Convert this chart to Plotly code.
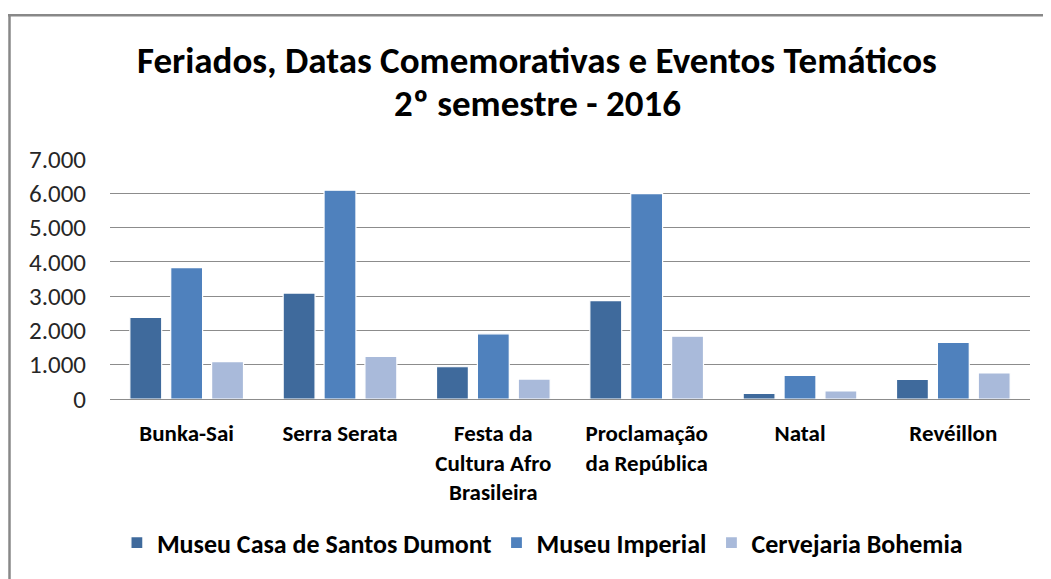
import plotly.graph_objects as go

categories = ["Bunka-Sai", "Serra Serata", "Festa da<br>Cultura Afro<br>Brasileira",
              "Proclamação<br>da República", "Natal", "Revéillon"]
series_names = ["Museu Casa de Santos Dumont", "Museu Imperial", "Cervejaria Bohemia"]
santos_dumont = [2380, 3090, 940, 2870, 165, 570]
museu_imperial = [3830, 6090, 1900, 5990, 690, 1650]
bohemia = [1090, 1240, 580, 1830, 235, 760]
colors = ["#3F6A9C", "#4F81BD", "#A9BADA"]
tick_vals = [0, 1000, 2000, 3000, 4000, 5000, 6000, 7000]
title_lines = ["Feriados, Datas Comemorativas e Eventos Temáticos", "2º semestre - 2016"]

FONT = "Calibri, Carlito, Lato, sans-serif"

fig = go.Figure()
for name, vals, c in zip(series_names, [santos_dumont, museu_imperial, bohemia], colors):
    fig.add_trace(go.Bar(x=categories, y=vals, name="<b>" + name + "</b>", marker_color=c,
                         marker_line=dict(color="white", width=1.2)))

W, H = 1043, 571
PL, PT, PW, PH = 102, 151, 920, 242
fig.update_layout(
    width=W, height=H,
    margin=dict(l=PL, r=W - PL - PW, t=PT, b=H - PT - PH),
    paper_bgcolor="white", plot_bgcolor="white",
    separators=",.",
    barmode="group", bargap=0.2, bargroupgap=0.22,
    font=dict(family=FONT, color="#000000"),
    xaxis=dict(showline=True, linecolor="#8C8C8C", linewidth=1, ticks="",
               tickfont=dict(size=23, family=FONT, color="#000000"),
               tickprefix="<b>", ticksuffix="</b>", ticklabelstandoff=13),
    yaxis=dict(range=[0, 7000], tickvals=tick_vals, tickformat=",d",
               showgrid=True, gridcolor="#8C8C8C", gridwidth=1, zeroline=False,
               tickfont=dict(size=25, family=FONT, color="#262626"), ticklen=18, ticks="outside",
               tickcolor="rgba(0,0,0,0)"),
    legend=dict(orientation="h", x=0.47, xanchor="center", y=-0.599, yanchor="middle",
                font=dict(size=26, family=FONT, color="#000000"), itemwidth=30,
                traceorder="normal"),
    showlegend=True,
)

# title lines (figure-pixel centres converted to paper coordinates of the plot area)
for txt, yc in zip(title_lines, [52, 95]):
    fig.add_annotation(text="<b>" + txt + "</b>", xref="paper", yref="paper",
                       x=(529 - PL) / PW, y=(PT + PH - yc) / PH, xanchor="center", yanchor="middle",
                       showarrow=False, font=dict(size=37, family=FONT, color="#000000"))

# chart-area border: left and top edges
fig.add_shape(type="line", xref="paper", yref="paper",
              x0=(1.5 - PL) / PW, x1=(1.5 - PL) / PW, y0=(PT + PH - 580) / PH, y1=(PT + PH - 6) / PH,
              line=dict(color="#888888", width=2.5))
fig.add_shape(type="line", xref="paper", yref="paper",
              x0=(0 - PL) / PW, x1=(1060 - PL) / PW, y0=(PT + PH - 6) / PH, y1=(PT + PH - 6) / PH,
              line=dict(color="#888888", width=2.5))

fig.write_html("out.html")
